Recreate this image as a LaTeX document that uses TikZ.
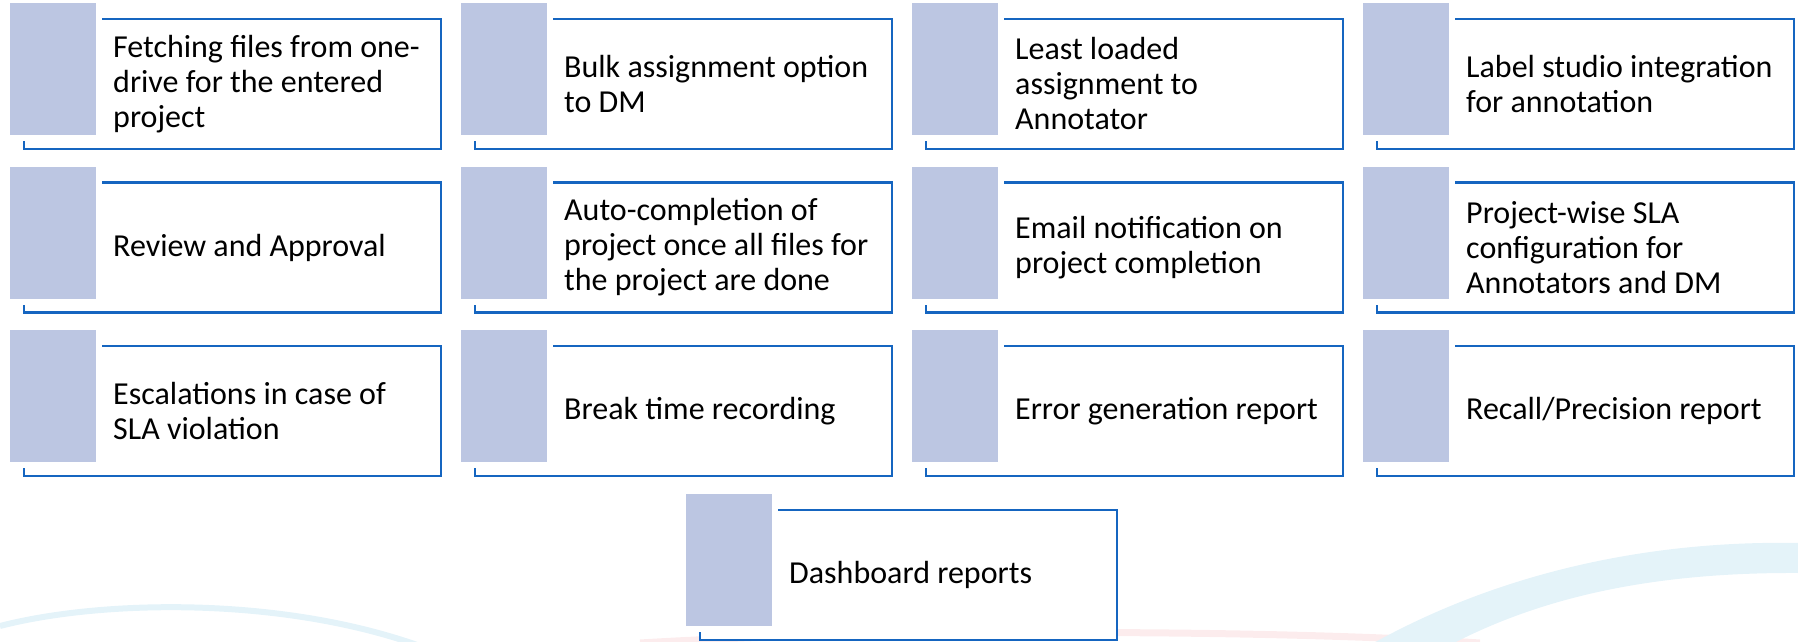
\documentclass[tikz,border=0pt]{standalone}
\usepackage{fontspec}
\setmainfont{Carlito}
\definecolor{edgeblue}{RGB}{21,101,192}
\definecolor{barfill}{RGB}{188,198,226}
\definecolor{swoosh}{RGB}{228,243,249}
\definecolor{swooshpink}{RGB}{252,236,237}
\tikzset{
  outl/.style={draw=edgeblue, fill=white, line width=2.5pt, minimum width=417pt, minimum height=130pt, inner sep=0pt},
  bar/.style={draw=white, fill=barfill, line width=6pt, minimum width=92pt, minimum height=138pt, inner sep=0pt},
  txt/.style={anchor=west, align=left, inner sep=0pt, font=\fontsize{32}{35}\selectfont, text=black}
}
\newcommand\tile[4]{%
  \node[outl] (#1o) at (#2+222.5, -#3-81) {};
  \node[bar] (#1b) at (#2+43, -#3-66) {};
  \node[txt] (#1t) at (#2+103, -#3-81) {#4};
}
\begin{document}
\begin{tikzpicture}[x=1pt,y=1pt]
\useasboundingbox (0,0) rectangle (1798,-641);
\begin{scope}
\clip (0,0) rectangle (1798,-641);
\draw[swoosh, line width=6pt] (0,-626) .. controls (100,-600) and (280,-596) .. (420,-646);
\draw[swooshpink, line width=7pt] (640,-643) .. controls (850,-630) and (1250,-628) .. (1480,-643);
\fill[swoosh] (1370,-645) .. controls (1500,-572) and (1650,-540) .. (1800,-543)
  -- (1800,-573) .. controls (1650,-572) and (1540,-598) .. (1450,-645) -- cycle;
\end{scope}
\tile{a}{10}{3}{Fetching files from one-\\drive for the entered\\project}
\tile{b}{461}{3}{Bulk assignment option\\to DM}
\tile{c}{912}{3}{Least loaded\\assignment to\\Annotator}
\tile{d}{1363}{3}{Label studio integration\\for annotation}
\tile{e}{10}{166.5}{Review and Approval}
\tile{f}{461}{166.5}{Auto-completion of\\project once all files for\\the project are done}
\tile{g}{912}{166.5}{Email notification on\\project completion}
\tile{h}{1363}{166.5}{Project-wise SLA\\configuration for\\Annotators and DM}
\tile{i}{10}{330}{Escalations in case of\\SLA violation}
\tile{j}{461}{330}{Break time recording}
\tile{k}{912}{330}{Error generation report}
\tile{l}{1363}{330}{Recall/Precision report}
\tile{m}{686}{494}{Dashboard reports}
\end{tikzpicture}
\end{document}
